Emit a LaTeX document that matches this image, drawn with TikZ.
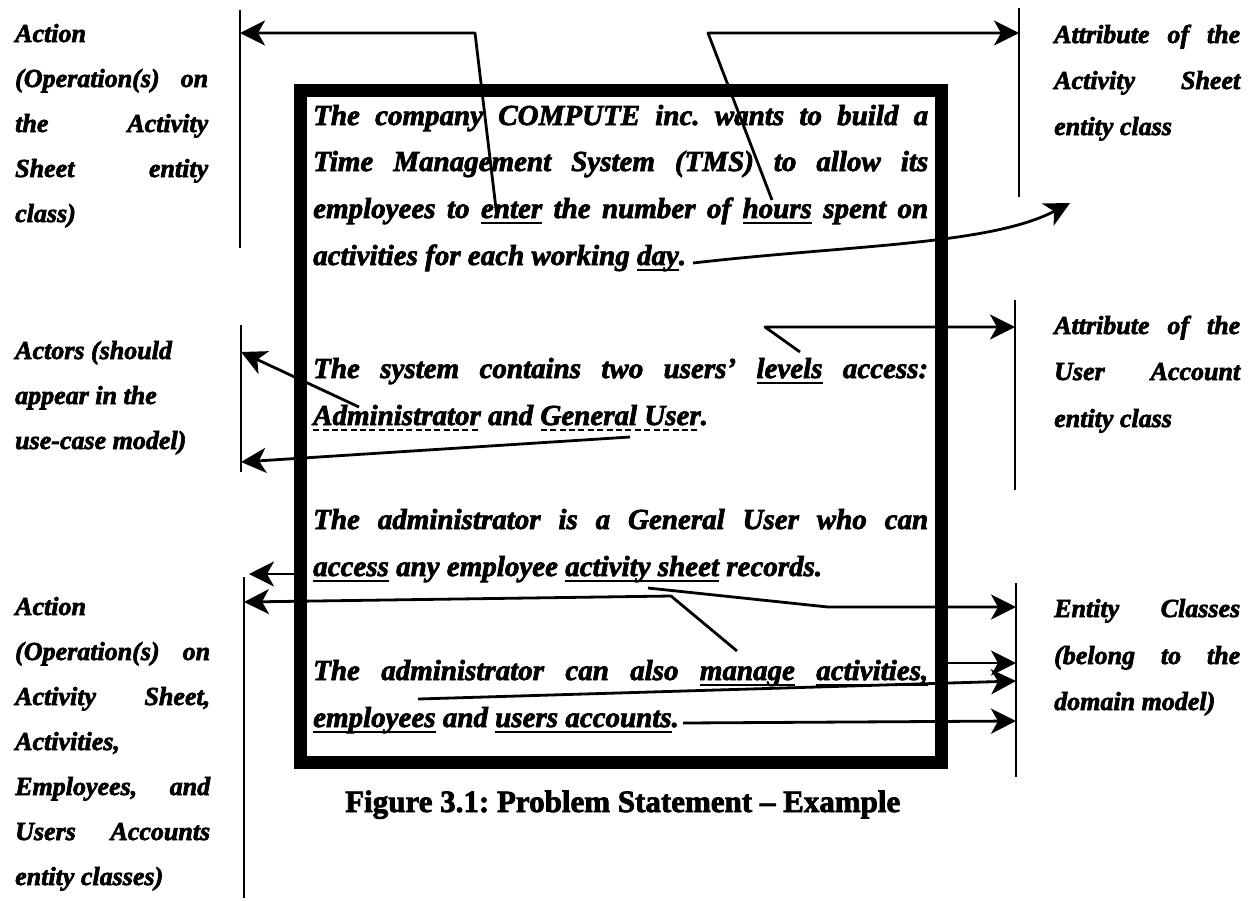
\documentclass[tikz,border=0pt]{standalone}
\usepackage{fontspec}
\setmainfont{Liberation Serif}
\newfontfamily\heavy{Liberation Serif}[Ligatures=TeX, FakeBold=2.5]
\usetikzlibrary{arrows.meta}

% solid and dashed underlines for the marked words
\newsavebox\ulbox
\newcommand\ul[1]{\sbox\ulbox{#1}\rlap{\rule[-6pt]{\wd\ulbox}{2.4pt}}\usebox\ulbox}
\newcommand\dul[1]{\sbox\ulbox{#1}\rlap{\raisebox{-6pt}{\hbox to\wd\ulbox{\xleaders\hbox{\rule{6pt}{2.4pt}\hskip3pt}\hfil}}}\usebox\ulbox}

\tikzset{
  body/.style={font=\heavy\fontsize{29}{29}\selectfont\bfseries\itshape\frenchspacing, anchor=base west, inner sep=0pt},
  side/.style={font=\heavy\fontsize{26}{26}\selectfont\bfseries\itshape\frenchspacing, anchor=base west, inner sep=0pt},
  caption/.style={font=\heavy\fontsize{31}{31}\selectfont\bfseries\frenchspacing, anchor=base west, inner sep=0pt},
  frame/.style={draw, line width=13pt, inner sep=0pt},
  bar/.style={line width=2.8pt},
  link/.style={line width=2.8pt, line join=round},
  headed/.style={-{Stealth[length=25pt,width=25pt,inset=7pt]}},
}

\begin{document}
\begin{tikzpicture}[x=1pt,y=-1pt]
\useasboundingbox[fill=white] (0,0) rectangle (1255,900);

% the problem statement frame
\node[frame, minimum width=641pt, minimum height=672pt] (stmt) at (620.5,426) {};

% statement text
\node[body] (p1a) at (313,125) {\makebox[615pt][s]{The company COMPUTE inc. wants to build a}};
\node[body] (p1b) at (313,171) {\makebox[615pt][s]{Time Management System (TMS) to allow its}};
\node[body] (p1c) at (313,218) {\makebox[615pt][s]{employees to \ul{enter} the number of \ul{hours} spent on}};
\node[body] (p1d) at (313,265) {activities for each working \ul{day}.};
\node[body] (p2a) at (313,378) {\makebox[615pt][s]{The system contains two users’ \ul{levels} access:}};
\node[body] (p2b) at (313,425) {\dul{Administrator} and \dul{General User}.};
\node[body] (p3a) at (313,529) {\makebox[615pt][s]{The administrator is a General User who can}};
\node[body] (p3b) at (313,576) {\ul{access} any employee \ul{activity sheet} records.};
\node[body] (p4a) at (313,680) {\makebox[615pt][s]{The administrator can also \ul{manage} \ul{activities,}}};
\node[body] (p4b) at (313,727) {\ul{employees} and \ul{users accounts}.};

% caption
\node[caption] (cap) at (345,812) {Figure 3.1: Problem Statement – Example};

% left annotations
\node[side] (lt1) at (15,42)  {\makebox[193pt][l]{Action}};
\node[side] (lt2) at (15,87)  {\makebox[193pt][s]{(Operation(s) on}};
\node[side] (lt3) at (15,132) {\makebox[193pt][s]{the Activity}};
\node[side] (lt4) at (15,177) {\makebox[193pt][s]{Sheet entity}};
\node[side] (lt5) at (15,222) {\makebox[193pt][l]{class)}};

\node[side] (lm1) at (15,359) {Actors (should};
\node[side] (lm2) at (15,404) {appear in the};
\node[side] (lm3) at (15,449) {use-case model)};

\node[side] (lb1) at (15,615) {\makebox[195pt][l]{Action}};
\node[side] (lb2) at (15,660) {\makebox[195pt][s]{(Operation(s) on}};
\node[side] (lb3) at (15,705) {\makebox[195pt][s]{Activity Sheet,}};
\node[side] (lb4) at (15,750) {\makebox[195pt][l]{Activities,}};
\node[side] (lb5) at (15,795) {\makebox[195pt][s]{Employees, and}};
\node[side] (lb6) at (15,840) {\makebox[195pt][s]{Users Accounts}};
\node[side] (lb7) at (15,885) {\makebox[195pt][l]{entity classes)}};

% right annotations
\node[side] (rt1) at (1054,43)  {\makebox[186pt][s]{Attribute of the}};
\node[side] (rt2) at (1054,89)  {\makebox[186pt][s]{Activity Sheet}};
\node[side] (rt3) at (1054,135) {\makebox[186pt][l]{entity class}};

\node[side] (rm1) at (1054,334) {\makebox[186pt][s]{Attribute of the}};
\node[side] (rm2) at (1054,380) {\makebox[186pt][s]{User Account}};
\node[side] (rm3) at (1054,427) {\makebox[186pt][l]{entity class}};

\node[side] (rb1) at (1054,617) {\makebox[186pt][s]{Entity Classes}};
\node[side] (rb2) at (1054,664) {\makebox[186pt][s]{(belong to the}};
\node[side] (rb3) at (1054,710) {\makebox[186pt][l]{domain model)}};

% bracket bars
\coordinate (ltA) at (240,10);   \coordinate (ltB) at (240,248);
\coordinate (lmA) at (241,325);  \coordinate (lmB) at (241,472);
\coordinate (lbA) at (244,577);  \coordinate (lbB) at (244,898);
\coordinate (rtA) at (1019,8);   \coordinate (rtB) at (1019,197);
\coordinate (rmA) at (1015,300); \coordinate (rmB) at (1015,490);
\coordinate (rbA) at (1016,583); \coordinate (rbB) at (1016,777);
\foreach \a/\b in {ltA/ltB, lmA/lmB, lbA/lbB, rtA/rtB, rmA/rmB, rbA/rbB}
  \draw[bar] (\a) -- (\b);

% connector points
\coordinate (enter)  at (497,217); \coordinate (enterK) at (475,33);  \coordinate (enterT) at (240,33);
\coordinate (hours)  at (772,200); \coordinate (hoursK) at (708,33);  \coordinate (hoursT) at (1019,33);
\coordinate (day)    at (693,263); \coordinate (dayT)   at (1070,203);
\coordinate (levels) at (800,352); \coordinate (levelsK) at (765,327); \coordinate (levelsT) at (1015,327);
\coordinate (admin)  at (359,407); \coordinate (adminT) at (241,352);
\coordinate (guser)  at (630,437); \coordinate (guserT) at (241,462);
\coordinate (access) at (300,574); \coordinate (accessT) at (249,574);
\coordinate (manage) at (737,651); \coordinate (manageK) at (671,596); \coordinate (manageT) at (244,602);
\coordinate (sheet)  at (648,588); \coordinate (sheetK) at (828,607); \coordinate (sheetT) at (1016,607);
\coordinate (activ)  at (941,663); \coordinate (activT) at (1016,663);
\coordinate (empl)   at (418,699); \coordinate (emplT)  at (1016,681);
\coordinate (accts)  at (683,723); \coordinate (acctsT) at (1016,721);

% connectors
\draw[link,headed] (enter) -- (enterK) -- (enterT);
\draw[link,headed] (hours) -- (hoursK) -- (hoursT);
\draw[link,headed] (day) .. controls (850,245) and (990,245) .. (dayT);
\draw[link,headed] (levels) -- (levelsK) -- (levelsT);
\draw[link,headed] (admin) -- (adminT);
\draw[link,headed] (guser) -- (guserT);
\draw[link,headed] (access) -- (accessT);
\draw[link,headed] (manage) -- (manageK) -- (manageT);
\draw[link,headed] (sheet) -- (sheetK) -- (sheetT);
\draw[link,headed] (activ) -- (activT);
\draw[link,headed] (empl) -- (emplT);
\draw[link,headed] (accts) -- (acctsT);
\end{tikzpicture}
\end{document}
